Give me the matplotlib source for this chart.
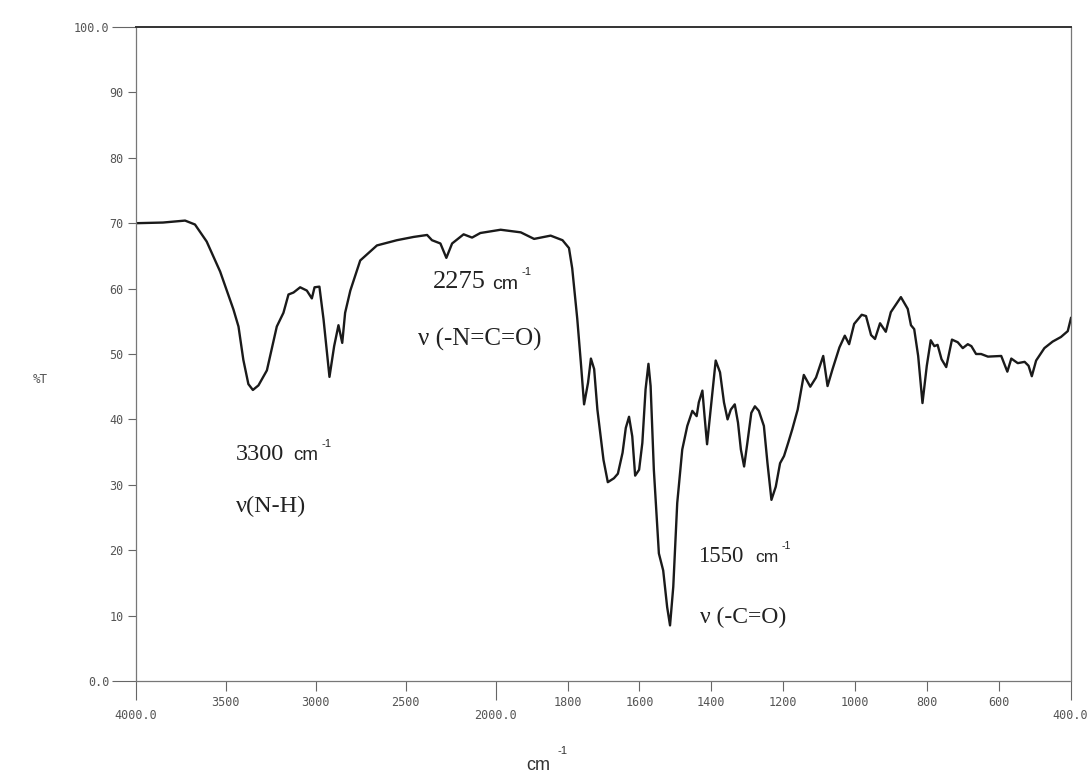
import numpy as np
import matplotlib
matplotlib.use("Agg")
import matplotlib.pyplot as plt

# ---------------- data ----------------
wavenumber = [4000, 3850, 3727, 3672, 3607, 3532, 3458, 3430, 3403, 3375, 3350, 3319,
              3272, 3217, 3180, 3152, 3124, 3087, 3050, 3022, 3007, 2980, 2957, 2924,
              2898, 2874, 2853, 2837, 2808, 2753, 2660, 2549, 2456, 2381, 2354, 2307,
              2274, 2242, 2178, 2131, 2085, 1986, 1930, 1893, 1847, 1814, 1796, 1787,
              1773, 1763, 1754, 1743, 1735, 1726, 1717, 1700, 1688, 1671, 1660, 1647,
              1638, 1629, 1620, 1612, 1601, 1592, 1583, 1575, 1569, 1560, 1546, 1534,
              1523, 1515, 1506, 1495, 1481, 1467, 1453, 1441, 1435, 1425, 1419, 1412,
              1402, 1388, 1376, 1365, 1355, 1346, 1335, 1326, 1318, 1309, 1300, 1289,
              1279, 1268, 1254, 1244, 1233, 1221, 1209, 1198, 1186, 1175, 1160, 1143,
              1125, 1109, 1089, 1077, 1063, 1044, 1029, 1017, 1003, 982, 970, 956,
              945, 931, 915, 901, 873, 854, 845, 836, 825, 813, 801, 790,
              780, 771, 760, 747, 731, 715, 701, 687, 677, 664, 650, 631,
              594, 577, 566, 548, 529, 518, 509, 497, 474, 451, 428, 409, 400]
transmittance = [70.0, 70.1, 70.4, 69.8, 67.2, 62.6, 56.8, 54.2, 49.1, 45.4, 44.5, 45.2,
                 47.5, 54.2, 56.3, 59.1, 59.4, 60.2, 59.7, 58.5, 60.2, 60.3, 55.3, 46.5,
                 51.2, 54.4, 51.7, 56.3, 59.7, 64.3, 66.6, 67.4, 67.9, 68.2, 67.4, 66.9,
                 64.7, 66.9, 68.3, 67.8, 68.5, 69.0, 68.6, 67.6, 68.1, 67.4, 66.2, 63.1,
                 55.4, 48.7, 42.3, 45.6, 49.3, 47.7, 41.5, 33.8, 30.4, 31.0, 31.7, 34.9,
                 38.7, 40.4, 37.4, 31.4, 32.3, 36.4, 44.6, 48.5, 45.1, 32.3, 19.5, 16.9,
                 11.3, 8.5, 14.4, 27.2, 35.4, 39.0, 41.3, 40.5, 42.6, 44.4, 40.5, 36.2,
                 41.5, 49.0, 47.2, 42.6, 40.0, 41.5, 42.3, 39.5, 35.4, 32.8, 36.4, 41.0,
                 42.0, 41.3, 39.0, 33.3, 27.7, 29.7, 33.3, 34.4, 36.5, 38.5, 41.5, 46.8,
                 45.0, 46.4, 49.7, 45.1, 47.7, 51.0, 52.8, 51.5, 54.6, 56.0, 55.8, 52.9,
                 52.3, 54.7, 53.4, 56.4, 58.7, 56.9, 54.4, 53.8, 49.7, 42.5, 48.2, 52.1,
                 51.2, 51.4, 49.2, 48.0, 52.2, 51.8, 50.9, 51.5, 51.2, 50.0, 50.0, 49.6,
                 49.7, 47.3, 49.3, 48.6, 48.8, 48.2, 46.6, 49.0, 50.9, 51.9, 52.6, 53.5, 55.5]

major_x = [4000, 2000, 400]
major_x_labels = ["4000.0", "2000.0", "400.0"]
minor_x = [3500, 3000, 2500, 1800, 1600, 1400, 1200, 1000, 800, 600]
minor_x_labels = ["3500", "3000", "2500", "1800", "1600", "1400", "1200", "1000", "800", "600"]
major_y = [0, 100]
major_y_labels = ["0.0", "100.0"]
minor_y = [10, 20, 30, 40, 50, 60, 70, 80, 90]
minor_y_labels = ["10", "20", "30", "40", "50", "60", "70", "80", "90"]

# ---------------- style ----------------
plt.rcParams['font.family'] = ['DejaVu Sans Mono']
TICK_C = '#555555'
W, H = 1088, 778


def fwd(w):
    w = np.asarray(w, dtype=float)
    return np.where(w >= 2000, w, 2 * w - 2000)


def inv(u):
    u = np.asarray(u, dtype=float)
    return np.where(u >= 2000, u, (u + 2000) / 2)


fig = plt.figure(figsize=(W / 100, H / 100), dpi=100)
ax = fig.add_axes([136 / W, (H - 681) / H, 935 / W, 654 / H])
ax.set_xscale('function', functions=(fwd, inv))
ax.plot(wavenumber, transmittance, color='#1a1a1a', lw=1.7, solid_joinstyle='round')
ax.set_xlim(4000, 400)
ax.set_ylim(0, 100)

for side in ['left', 'bottom', 'right']:
    ax.spines[side].set_linestyle((0, (1, 1)))
    ax.spines[side].set_color('#777777')
    ax.spines[side].set_linewidth(0.9)
ax.spines['top'].set_color('#333333')
ax.spines['top'].set_linewidth(1.4)

ax.set_xticks(major_x, major_x_labels)
ax.set_xticks(minor_x, minor_x_labels, minor=True)
ax.set_yticks(major_y, major_y_labels)
ax.set_yticks(minor_y, minor_y_labels, minor=True)

ax.tick_params(axis='x', which='major', direction='out', length=14, width=0.8,
               color='#666666', pad=6, labelsize=8.5, labelcolor=TICK_C)
ax.tick_params(axis='x', which='minor', direction='out', length=7, width=0.8,
               color='#666666', pad=4, labelsize=8.5, labelcolor=TICK_C)
ax.tick_params(axis='y', which='major', direction='out', length=17, width=0.8,
               color='#666666', pad=2, labelsize=8.5, labelcolor=TICK_C)
ax.tick_params(axis='y', which='minor', direction='out', length=6, width=0.8,
               color='#666666', pad=3, labelsize=8.5, labelcolor=TICK_C)
# keep the right-most label inside the canvas
ax.get_xticklabels()[-1].set_horizontalalignment('right')
ax.get_xticklabels()[-1].set_x(400)
import matplotlib.transforms as mtransforms
lbl = ax.get_xticklabels()[-1]
lbl.set_transform(lbl.get_transform() + mtransforms.ScaledTranslation(17 / 100, 0, fig.dpi_scale_trans))


def ftext(x, y, s, **kw):
    fig.text(x / W, 1 - y / H, s, **kw)


SERIF = ['Liberation Serif', 'DejaVu Serif']
SANS = ['Liberation Sans', 'DejaVu Sans']
TC = '#222222'

# 2275 annotation
ftext(433, 282, "2275", family=SERIF, fontsize=19, va='center', ha='left', color=TC)
ftext(492, 284, "cm", family=SANS, fontsize=14, va='center', ha='left', color=TC)
ftext(522, 272, "-1", family=SANS, fontsize=8, va='center', ha='left', color=TC)
ftext(418, 339, "ν (-N=C=O)", family=SERIF, fontsize=18, va='center', ha='left', color=TC)

# 3300 annotation
ftext(236, 454, "3300", family=SERIF, fontsize=17.5, va='center', ha='left', color=TC)
ftext(293, 456, "cm", family=SANS, fontsize=13.5, va='center', ha='left', color=TC)
ftext(322, 444, "-1", family=SANS, fontsize=8, va='center', ha='left', color=TC)
ftext(236, 506, "ν(N-H)", family=SERIF, fontsize=17.5, va='center', ha='left', color=TC)

# 1550 annotation
ftext(698, 556, "1550", family=SERIF, fontsize=16.5, va='center', ha='left', color=TC)
ftext(755, 558, "cm", family=SANS, fontsize=12.5, va='center', ha='left', color=TC)
ftext(782, 546, "-1", family=SANS, fontsize=7.5, va='center', ha='left', color=TC)
ftext(700, 617, "ν (-C=O)", family=SERIF, fontsize=17, va='center', ha='left', color=TC)

# axis labels
ftext(526, 765, "cm", family=SANS, fontsize=13, va='center', ha='left', color='#333333')
ftext(558, 751, "-1", family=SANS, fontsize=8, va='center', ha='left', color='#333333')
ftext(40, 380, "%T", fontsize=9, va='center', ha='center', color=TICK_C)

fig.savefig("out.png", dpi=100)
